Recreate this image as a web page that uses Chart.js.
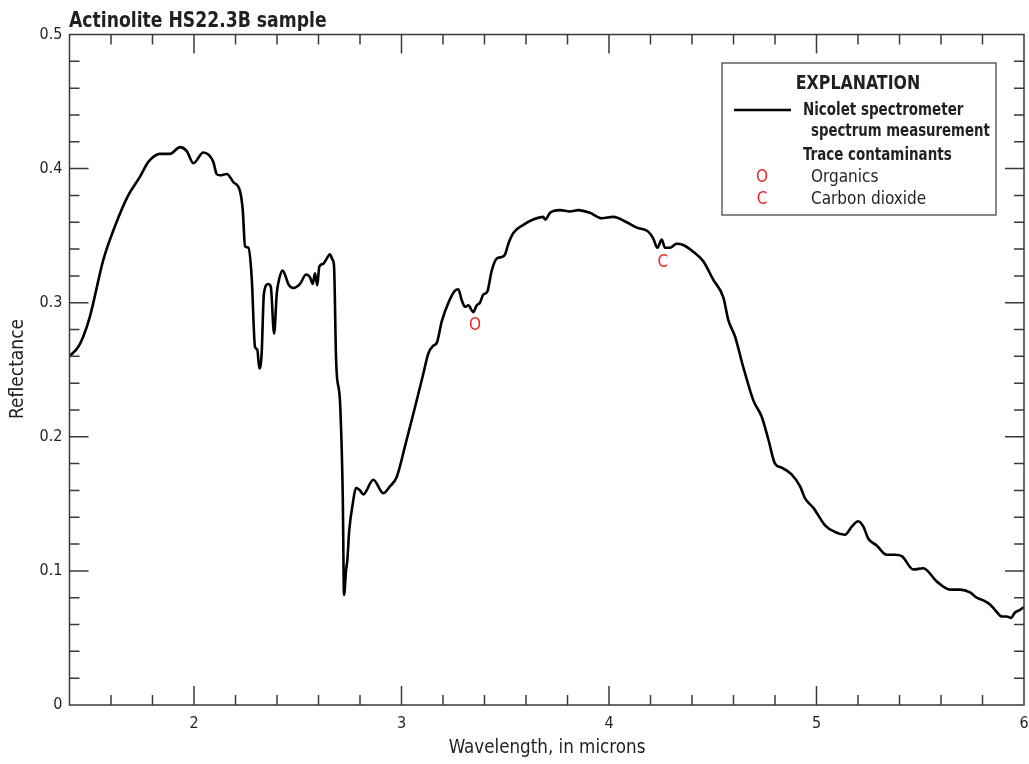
<!DOCTYPE html>
<html>
<head>
<meta charset="utf-8">
<title>Actinolite HS22.3B sample</title>
<script src="https://cdn.jsdelivr.net/npm/chart.js@4.4.1/dist/chart.umd.min.js"></script>
<style>
    html, body { margin: 0; padding: 0; background: #fff; }
    #wrap { position: relative; width: 1029px; height: 764px; }
</style>
</head>
<body>
<div id="wrap"><canvas id="spectrumChart"></canvas></div>
<script>
// wavelength (microns) and reflectance
const wavelength = [
    1.400, 1.442, 1.467, 1.499, 1.563, 1.619, 1.683, 1.740, 1.780, 1.836,
    1.884, 1.933, 1.965, 1.997, 2.045, 2.093, 2.109, 2.125, 2.158, 2.189,
    2.222, 2.235, 2.246, 2.262, 2.278, 2.294, 2.305, 2.315, 2.326, 2.337,
    2.358, 2.370, 2.386, 2.399, 2.411, 2.427, 2.443, 2.454, 2.479, 2.511,
    2.540, 2.559, 2.572, 2.583, 2.594, 2.604, 2.623, 2.640, 2.655, 2.668,
    2.675, 2.684, 2.688, 2.704, 2.717, 2.723, 2.733, 2.739, 2.748, 2.765,
    2.781, 2.800, 2.816, 2.864, 2.912, 2.944, 2.977, 3.017, 3.065, 3.105,
    3.129, 3.153, 3.170, 3.194, 3.226, 3.258, 3.274, 3.290, 3.306, 3.322,
    3.346, 3.362, 3.378, 3.394, 3.413, 3.435, 3.459, 3.483, 3.499, 3.515,
    3.539, 3.587, 3.635, 3.683, 3.692, 3.716, 3.764, 3.812, 3.852, 3.908,
    3.965, 4.021, 4.085, 4.134, 4.189, 4.213, 4.233, 4.254, 4.270, 4.294,
    4.326, 4.358, 4.406, 4.454, 4.503, 4.551, 4.575, 4.607, 4.647, 4.696,
    4.736, 4.768, 4.800, 4.832, 4.880, 4.921, 4.945, 4.985, 5.041, 5.089,
    5.137, 5.170, 5.201, 5.226, 5.250, 5.290, 5.338, 5.378, 5.411, 5.467,
    5.515, 5.580, 5.644, 5.692, 5.740, 5.772, 5.804, 5.836, 5.860, 5.893,
    5.917, 5.936, 5.957, 5.981, 6.000
];
const reflectance = [
    0.260, 0.267, 0.275, 0.290, 0.332, 0.357, 0.380, 0.394, 0.405, 0.411,
    0.411, 0.416, 0.413, 0.404, 0.412, 0.405, 0.396, 0.395, 0.396, 0.390,
    0.383, 0.369, 0.342, 0.341, 0.319, 0.267, 0.265, 0.251, 0.262, 0.307,
    0.314, 0.312, 0.277, 0.307, 0.318, 0.324, 0.319, 0.314, 0.311, 0.314,
    0.321, 0.319, 0.314, 0.322, 0.313, 0.327, 0.329, 0.333, 0.336, 0.332,
    0.327, 0.262, 0.247, 0.225, 0.155, 0.082, 0.101, 0.108, 0.130, 0.150,
    0.162, 0.160, 0.157, 0.168, 0.158, 0.163, 0.170, 0.193, 0.222, 0.247,
    0.262, 0.268, 0.270, 0.286, 0.300, 0.309, 0.310, 0.302, 0.297, 0.298,
    0.293, 0.298, 0.300, 0.306, 0.308, 0.324, 0.333, 0.334, 0.336, 0.344,
    0.352, 0.358, 0.362, 0.364, 0.362, 0.367, 0.369, 0.368, 0.369, 0.367,
    0.363, 0.364, 0.360, 0.356, 0.353, 0.348, 0.341, 0.347, 0.341, 0.341,
    0.344, 0.343, 0.338, 0.331, 0.317, 0.304, 0.287, 0.275, 0.252, 0.227,
    0.215, 0.198, 0.180, 0.177, 0.172, 0.163, 0.154, 0.147, 0.134, 0.129,
    0.127, 0.133, 0.137, 0.133, 0.124, 0.119, 0.112, 0.112, 0.111, 0.101,
    0.102, 0.092, 0.086, 0.086, 0.084, 0.080, 0.078, 0.075, 0.071, 0.066,
    0.066, 0.065, 0.069, 0.071, 0.073
];

const xTickValues = [2, 3, 4, 5, 6];
const yTickValues = [0, 0.1, 0.2, 0.3, 0.4, 0.5];

// trace contaminant markers
const markLabels = ['O', 'C'];
const markX = [3.354, 4.26];
const markY = [0.283, 0.330];

const legendNames = ['Organics', 'Carbon dioxide'];

const FONT = "'Liberation Sans Narrow', 'DejaVu Sans Condensed', 'Roboto Condensed', sans-serif";
const INK = '#231f20';
const RED = '#e8262d';

var ctx = document.getElementById('spectrumChart').getContext('2d');

const points = wavelength.map((w, i) => ({ x: w, y: reflectance[i] }));

// squeeze text sideways so it reads like the narrow face of the original
function narrowText(c, text, x, y, sx) {
    c.save();
    c.translate(x, y);
    c.scale(sx, 1);
    c.fillText(text, 0, 0);
    c.restore();
}

const frame = {
    id: 'frame',
    afterDraw(chart) {
        const c = chart.ctx;
        const a = chart.chartArea;
        const xs = chart.scales.x;
        const ys = chart.scales.y;
        c.save();
        c.strokeStyle = '#3a3a3a';
        c.lineWidth = 1.5;
        c.strokeRect(a.left, a.top, a.right - a.left, a.bottom - a.top);

        c.beginPath();
        for (let i = 8; i < 30; i++) {
            const px = xs.getPixelForValue(i / 5);
            const len = i % 5 === 0 ? 19 : 10;
            c.moveTo(px, a.bottom); c.lineTo(px, a.bottom - len);
            c.moveTo(px, a.top); c.lineTo(px, a.top + len);
        }
        for (let i = 1; i < 25; i++) {
            const py = ys.getPixelForValue(i / 50);
            const len = i % 5 === 0 ? 19 : 10;
            c.moveTo(a.left, py); c.lineTo(a.left + len, py);
            c.moveTo(a.right, py); c.lineTo(a.right - len, py);
        }
        c.stroke();

        // title and axis titles
        c.fillStyle = INK;
        c.textBaseline = 'alphabetic';
        c.textAlign = 'left';
        c.font = 'bold 22px ' + FONT;
        narrowText(c, 'Actinolite HS22.3B sample', 69, 27, 0.87);

        c.font = '19px ' + FONT;
        c.textAlign = 'center';
        c.textBaseline = 'middle';
        narrowText(c, 'Wavelength, in microns', 547, 748, 0.98);
        c.save();
        c.translate(18.5, 369);
        c.rotate(-Math.PI / 2);
        c.fillText('Reflectance', 0, 0);
        c.restore();

        // contaminant letters on the curve
        c.fillStyle = RED;
        c.font = '17px ' + FONT;
        markLabels.forEach((m, i) => {
            c.fillText(m, xs.getPixelForValue(markX[i]), ys.getPixelForValue(markY[i]));
        });

        // explanation box
        c.strokeStyle = '#3a3a3a';
        c.lineWidth = 1.2;
        c.strokeRect(722, 63, 274, 152);
        c.fillStyle = INK;
        c.font = 'bold 20px ' + FONT;
        c.textAlign = 'center';
        narrowText(c, 'EXPLANATION', 858, 84, 0.88);

        c.strokeStyle = '#000';
        c.lineWidth = 2.5;
        c.beginPath();
        c.moveTo(734, 110); c.lineTo(791, 110);
        c.stroke();

        c.textAlign = 'left';
        c.font = 'bold 17px ' + FONT;
        narrowText(c, 'Nicolet spectrometer', 803, 111, 0.88);
        narrowText(c, 'spectrum measurement', 811, 132, 0.87);
        narrowText(c, 'Trace contaminants', 803, 156, 0.88);
        c.font = '17px ' + FONT;
        legendNames.forEach((n, i) => {
            c.fillStyle = RED;
            c.textAlign = 'center';
            c.fillText(markLabels[i], 762, 178 + i * 22);
            c.fillStyle = INK;
            c.textAlign = 'left';
            c.fillText(n, 811, 178 + i * 22);
        });
        c.restore();
    }
};

var spectrumChart = new Chart(ctx, {
    type: 'line',
    data: {
        datasets: [{
            label: 'Nicolet spectrometer spectrum measurement',
            data: points,
            borderColor: '#000',
            borderWidth: 2.6,
            pointRadius: 0,
            fill: false,
            cubicInterpolationMode: 'monotone'
        }]
    },
    options: {
        responsive: true,
        maintainAspectRatio: false,
        animation: false,
        layout: { padding: { left: 0, right: 5, top: 34.5, bottom: 0 } },
        scales: {
            x: {
                type: 'linear',
                min: 1.4,
                max: 6,
                afterFit: s => { s.height = 59; s.paddingLeft = 0; s.paddingRight = 0; },
                afterBuildTicks: s => { s.ticks = xTickValues.map(v => ({ value: v })); },
                grid: { display: false, drawTicks: false },
                border: { display: false },
                ticks: { padding: 9, color: INK, font: { family: FONT, size: 16 }, maxRotation: 0 }
            },
            y: {
                min: 0,
                max: 0.5,
                afterFit: s => { s.width = 69.5; s.paddingTop = 0; s.paddingBottom = 0; },
                afterBuildTicks: s => { s.ticks = yTickValues.map(v => ({ value: v })); },
                grid: { display: false, drawTicks: false },
                border: { display: false },
                ticks: { padding: 7, color: INK, font: { family: FONT, size: 16 } }
            }
        },
        plugins: {
            legend: { display: false },
            tooltip: { enabled: false }
        }
    },
    plugins: [frame]
});
</script>
</body>
</html>
